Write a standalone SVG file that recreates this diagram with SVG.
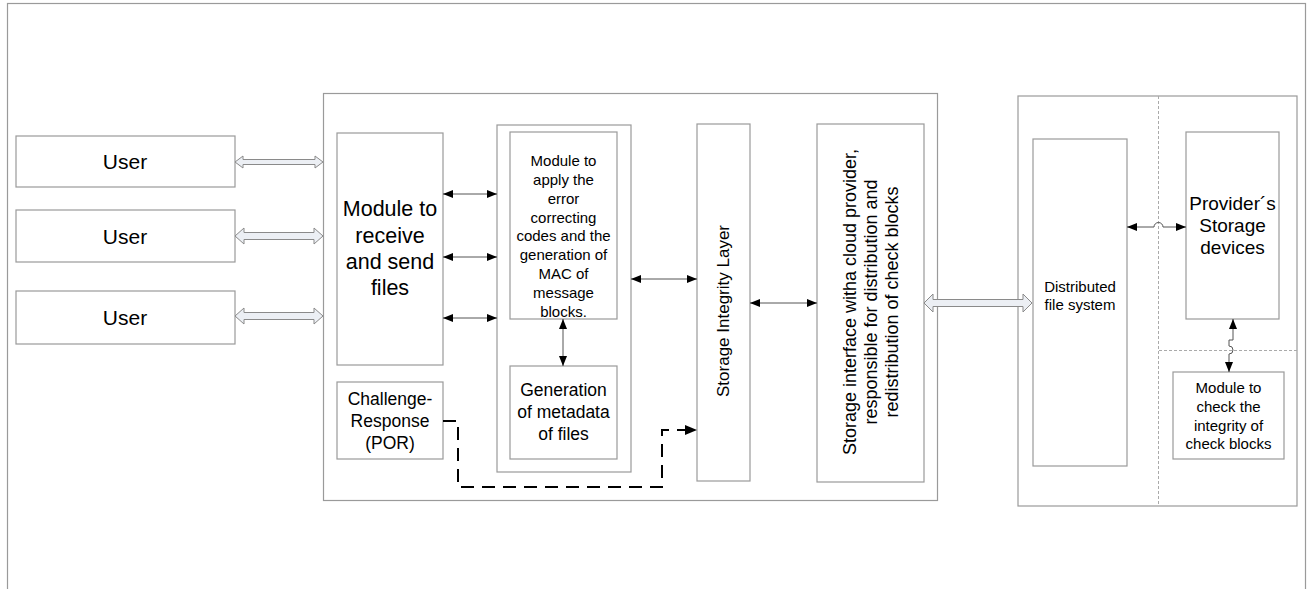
<svg xmlns="http://www.w3.org/2000/svg" width="1310" height="589" viewBox="0 0 1310 589">
<style>
.box{fill:#fff;stroke:#9a9a9a;stroke-width:1.2}
.frame{fill:none;stroke:#9a9a9a;stroke-width:1.2}
.t{font-family:"Liberation Sans",Arial,sans-serif;fill:#000;text-anchor:middle;dominant-baseline:central}
.conn{fill:none;stroke:#555;stroke-width:1}
.hol{fill:#eceff4;stroke:#8a8a8a;stroke-width:1}
.dash{fill:none;stroke:#000;stroke-width:2;stroke-dasharray:13,8}
.guide{fill:none;stroke:#aaa;stroke-width:1;stroke-dasharray:3,2}
</style>
<defs>
<marker id="ah" viewBox="0 0 10 8" refX="10" refY="4" markerWidth="10" markerHeight="8" orient="auto-start-reverse" markerUnits="userSpaceOnUse"><path d="M0,0 L10,4 L0,8 z" fill="#000"/></marker>
</defs>
<rect width="1310" height="589" fill="#fff"/>
<rect class="frame" x="7.5" y="3.5" width="1298" height="620"/>
<g id="main-container"><rect class="box" x="323.5" y="93.5" width="614" height="407"/></g>
<g id="right-container"><rect class="box" x="1018" y="96" width="279" height="410"/>
<path class="guide" d="M1158.5,96 V506 M1159,350.5 H1297"/></g>

<g id="user1"><rect class="box" x="16" y="136" width="219" height="51"/><text class="t" x="125" y="161.5" font-size="21">User</text></g>
<g id="user2"><rect class="box" x="16" y="210" width="219" height="52"/><text class="t" x="125" y="236" font-size="21">User</text></g>
<g id="user3"><rect class="box" x="16" y="291" width="219" height="53"/><text class="t" x="125" y="317.5" font-size="21">User</text></g>

<g id="receive"><rect class="box" x="337" y="133" width="106" height="232"/>
<text class="t" font-size="21.5" x="390"><tspan x="390" y="209">Module to</tspan><tspan x="390" y="236">receive</tspan><tspan x="390" y="262">and send</tspan><tspan x="390" y="288">files</tspan></text></g>

<g id="challenge"><rect class="box" x="337" y="382" width="106" height="77"/>
<text class="t" font-size="17.5"><tspan x="390" y="399">Challenge-</tspan><tspan x="390" y="421">Response</tspan><tspan x="390" y="443">(POR)</tspan></text></g>

<g id="apply-group"><rect class="box" x="497" y="125" width="134" height="347"/></g>
<g id="apply"><rect class="box" x="510" y="132" width="107" height="187"/>
<text class="t" font-size="15"><tspan x="563.5" y="160">Module to</tspan><tspan x="563.5" y="179">apply the</tspan><tspan x="563.5" y="197.5">error</tspan><tspan x="563.5" y="216.5">correcting</tspan><tspan x="563.5" y="235">codes and the</tspan><tspan x="563.5" y="254">generation of</tspan><tspan x="563.5" y="273">MAC of</tspan><tspan x="563.5" y="292">message</tspan><tspan x="563.5" y="310.5">blocks.</tspan></text></g>

<g id="metadata"><rect class="box" x="510" y="366" width="107" height="93"/>
<text class="t" font-size="17.5"><tspan x="563.5" y="390">Generation</tspan><tspan x="563.5" y="412">of metadata</tspan><tspan x="563.5" y="434">of files</tspan></text></g>

<g id="sil"><rect class="box" x="697" y="124" width="53" height="357"/>
<text class="t" font-size="17" transform="translate(723,311) rotate(-90)" x="0" y="0">Storage Integrity Layer</text></g>

<g id="storage-interface"><rect class="box" x="817" y="124" width="107" height="358"/>
<text class="t" font-size="18" transform="translate(871,302) rotate(-90)"><tspan x="0" y="-21">Storage interface witha cloud provider,</tspan><tspan x="0" y="0">responsible for distribution and</tspan><tspan x="0" y="21">redistribution of check blocks</tspan></text></g>

<g id="dfs"><rect class="box" x="1033" y="139" width="94" height="327"/>
<text class="t" font-size="15"><tspan x="1080" y="286">Distributed</tspan><tspan x="1080" y="304">file system</tspan></text></g>

<g id="provider"><rect class="box" x="1186" y="132" width="93" height="187"/>
<text class="t" font-size="19"><tspan x="1232.5" y="203">Provider´s</tspan><tspan x="1232.5" y="225">Storage</tspan><tspan x="1232.5" y="247">devices</tspan></text></g>

<g id="check-module"><rect class="box" x="1173" y="372" width="111" height="87"/>
<text class="t" font-size="15"><tspan x="1228.5" y="387">Module to</tspan><tspan x="1228.5" y="406">check the</tspan><tspan x="1228.5" y="425">integrity of</tspan><tspan x="1228.5" y="443">check blocks</tspan></text></g>

<g id="connectors">
<polygon class="hol" points="235,162 243,156 243,159.5 315,159.5 315,156 323,162 315,168 315,164.5 243,164.5 243,168"/>
<polygon class="hol" points="235,236 244,228 244,232.5 314,232.5 314,228 323,236 314,244 314,239.5 244,239.5 244,244"/>
<polygon class="hol" points="235,316 244,308 244,312.5 314,312.5 314,308 323,316 314,324 314,319.5 244,319.5 244,324"/>
<polygon class="hol" points="924,303 933,294 933,299.5 1023,299.5 1023,294 1032,303 1023,312 1023,306.5 933,306.5 933,312"/>
<path class="conn" d="M443,194 H497" marker-start="url(#ah)" marker-end="url(#ah)"/>
<path class="conn" d="M443,257 H497" marker-start="url(#ah)" marker-end="url(#ah)"/>
<path class="conn" d="M443,318 H497" marker-start="url(#ah)" marker-end="url(#ah)"/>
<path class="conn" d="M563,319 V366" marker-start="url(#ah)" marker-end="url(#ah)"/>
<path class="conn" d="M631,279 H697" marker-start="url(#ah)" marker-end="url(#ah)"/>
<path class="conn" d="M750,303 H817" marker-start="url(#ah)" marker-end="url(#ah)"/>
<path class="conn" d="M1127,227 H1154 A4.5,4.5 0 0 1 1163,227 H1186" marker-start="url(#ah)" marker-end="url(#ah)"/>
<path class="conn" d="M1233,319 V340 H1229 V346 A4,4 0 0 1 1229,354 V372" marker-start="url(#ah)" marker-end="url(#ah)"/>
<path class="dash" d="M443,421 H458 V487 H662 V430 H687"/>
<path d="M685,425 L697,430 L685,435 z" fill="#000"/>
</g>
</svg>
